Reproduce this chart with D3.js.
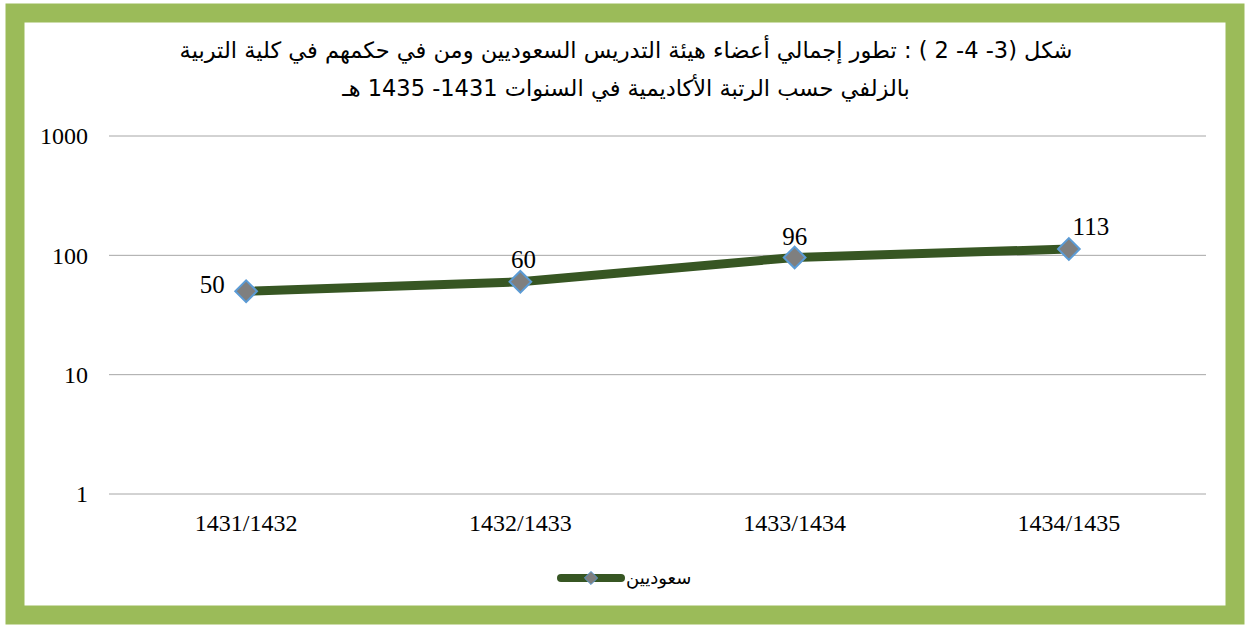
<!DOCTYPE html>
<html>
<head>
<meta charset="utf-8">
<script src="https://cdn.jsdelivr.net/npm/d3@7"></script>
<style>
  body { margin: 0; background: #fff; }
  svg { display: block; }
  .serif { font-family: "Liberation Serif", "Times New Roman", serif; }
</style>
</head>
<body>
<div class="chart"></div>
<script>

const years = ["1431/1432", "1432/1433", "1433/1434", "1434/1435"]
const saudis = [50, 60, 96, 113]
const yTicks = [1, 10, 100, 1000]
const seriesName = "سعوديين"
const titleLines = [
  "شكل (3- 4- 2 ) : تطور إجمالي أعضاء هيئة التدريس السعوديين ومن في حكمهم في كلية التربية",
  "بالزلفي حسب الرتبة الأكاديمية في السنوات 1431- 1435 هـ"
]

const W = 1247, H = 626
const plot = ({top: 136, right: 1206, bottom: 494, left: 109})

const svg = d3.select(".chart").append("svg")
    .attr("width", W)
    .attr("height", H)

// green frame
svg.append("rect")
    .attr("x", 15).attr("y", 13)
    .attr("width", 1220).attr("height", 602)
    .attr("fill", "#fff")
    .attr("stroke", "#9bbb59")
    .attr("stroke-width", 19)

svg.append("g")
    .style("font-family", "DejaVu Sans")
    .style("font-size", "22.5px")
    .attr("text-anchor", "middle")
    .attr("fill", "#000")
  .selectAll("text")
  .data(titleLines)
  .join("text")
    .attr("x", 626)
    .attr("y", (d, i) => 58 + i * 38)
    .attr("direction", "rtl")
    .style("unicode-bidi", "plaintext")
    .text(d => d)

const xScale = d3.scaleBand()
    .domain(years)
    .range([plot.left, plot.right])

const yScale = d3.scaleLog()
    .domain([1, 1000])
    .range([plot.bottom, plot.top])

// grid
svg.append("g")
  .selectAll("line")
  .data(yTicks)
  .join("line")
    .attr("x1", plot.left)
    .attr("x2", plot.right)
    .attr("y1", d => yScale(d))
    .attr("y2", d => yScale(d))
    .attr("stroke", "#a6a6a6")
    .attr("stroke-width", 1)

const yAxis = d3.axisLeft(yScale)
    .tickValues(yTicks)
    .tickFormat(d3.format("d"))
    .tickSize(0)
    .tickPadding(21)

svg.append("g")
    .attr("transform", `translate(${plot.left},0)`)
    .call(yAxis)
    .call(g => g.select(".domain").remove())
    .selectAll("text")
    .attr("class", "serif")
    .style("font-size", "24px")
    .attr("fill", "#000")

const xAxis = d3.axisBottom(xScale)
    .tickSize(0)
    .tickPadding(20)

svg.append("g")
    .attr("transform", `translate(0,${plot.bottom})`)
    .call(xAxis)
    .call(g => g.select(".domain").remove())
    .selectAll("text")
    .attr("class", "serif")
    .style("font-size", "24px")
    .attr("fill", "#000")

const cx = (d, i) => xScale(years[i]) + xScale.bandwidth() / 2

const line = d3.line()
    .x(cx)
    .y(d => yScale(d))

svg.append("path")
    .datum(saudis)
    .attr("d", line)
    .attr("fill", "none")
    .attr("stroke", "#375623")
    .attr("stroke-width", 9)
    .attr("stroke-linejoin", "round")

const diamond = d3.symbol().type(d3.symbolDiamond2).size(300)

svg.append("g")
  .selectAll("path")
  .data(saudis)
  .join("path")
    .attr("d", diamond)
    .attr("transform", (d, i) => `translate(${cx(d, i)},${yScale(d)})`)
    .attr("fill", "#7f7f7f")
    .attr("stroke", "#5b9bd5")
    .attr("stroke-width", 2)

// data labels, placed like the original
const labelPos = [
  {dx: -34, dy: 2},
  {dx: 3, dy: -14},
  {dx: 0, dy: -12},
  {dx: 22, dy: -14}
]

svg.append("g")
  .selectAll("text")
  .data(saudis)
  .join("text")
    .attr("class", "serif")
    .style("font-size", "25px")
    .attr("fill", "#000")
    .attr("x", (d, i) => cx(d, i) + labelPos[i].dx)
    .attr("y", (d, i) => yScale(d) + labelPos[i].dy)
    .attr("text-anchor", "middle")
    .text(d => d)

// legend
const lg = svg.append("g").attr("transform", "translate(591,578)")
lg.append("line")
    .attr("x1", -30).attr("x2", 30)
    .attr("stroke", "#375623")
    .attr("stroke-width", 8)
    .attr("stroke-linecap", "round")
lg.append("path")
    .attr("d", d3.symbol().type(d3.symbolDiamond2).size(110))
    .attr("fill", "#7f7f7f")
    .attr("stroke", "#5b9bd5")
    .attr("stroke-width", 1)
lg.append("text")
    .attr("x", 35)
    .attr("y", 6)
    .style("font-family", "DejaVu Sans")
    .style("font-size", "18px")
    .attr("direction", "rtl")
    .attr("text-anchor", "end")
    .text(seriesName)

</script>
</body>
</html>
